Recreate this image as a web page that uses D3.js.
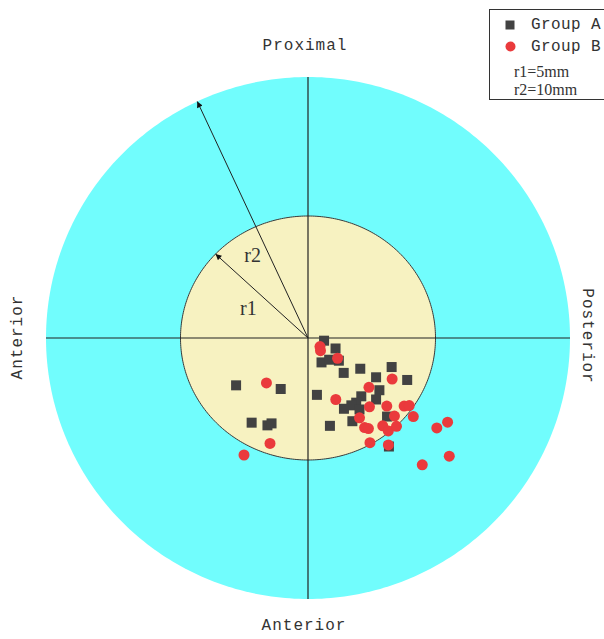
<!DOCTYPE html>
<html>
<head>
<meta charset="utf-8">
<script src="https://cdn.jsdelivr.net/npm/d3@7"></script>
<style>
  html, body { margin: 0; padding: 0; background: #ffffff; }
  svg { display: block; }
</style>
</head>
<body>
<svg id="chart" width="604" height="639"></svg>
<script>
// Target zones (mm)
const zoneRadii = [10, 5];               // r2, r1
const zoneColors = ["#71fdfd", "#f7f2c1"];

// Point positions in mm: x toward Posterior (+), y toward Proximal (+)
const groupAx = [0.63, 1.08, 0.53, 0.83, 1.21, 1.40, 2.05, 3.28, 3.89, 2.67, 2.80, 2.67, 0.35, 2.09,
                 1.89, 1.70, 1.41, 2.02, 1.74, 0.86, 3.10, 3.16, -2.82, -1.07, -2.21, -1.59, -1.43];
const groupAy = [-0.11, -0.43, -1.00, -0.89, -0.93, -1.43, -1.26, -1.19, -1.72, -1.61, -2.14, -2.52, -2.33, -2.39,
                 -2.65, -2.76, -2.90, -2.93, -3.41, -3.60, -3.22, -4.40, -1.94, -2.09, -3.47, -3.58, -3.50];

const groupBx = [0.47, 0.49, 1.16, 3.30, 2.39, 1.09, 2.41, 3.09, 3.77, 3.97, 4.12, 2.02, 2.22, 2.37,
                 2.93, 3.15, 3.47, 3.39, 2.43, -1.63, -1.49, -2.50, 4.42, 5.00, 5.41, 5.45, 3.14];
const groupBy = [-0.35, -0.52, -0.83, -1.68, -2.02, -2.52, -2.82, -2.79, -2.79, -2.77, -3.20, -3.27, -3.67, -3.71,
                 -3.60, -3.81, -3.62, -3.20, -4.29, -1.84, -4.32, -4.75, -5.02, -3.59, -3.35, -4.65, -4.34];

const directionLabels = ["Proximal", "Anterior", "Anterior", "Posterior"];
const legendGroups = ["Group A", "Group B"];
const legendNotes = ["r1=5mm", "r2=10mm"];

// Radius indicator arrows: [angle in degrees, radius mm]
const radiusArrows = [[115, 10], [136.5, 5]];
const radiusLabels = [{text: "r2", x: -2.17, y: 3.40}, {text: "r1", x: -2.34, y: 1.22}];

const svg = d3.select("#chart");

// Polar projection: radial scales (mm -> px), one segment per zone ring
const cx = 308, cy = 338;
const rx = d3.scaleLinear().domain([0, 5, 10]).range([0, 127.5, 262]);
const ry = d3.scaleLinear().domain([0, 5, 10]).range([0, 122, 261]);
const project = (xm, ym) => {
  const rho = Math.hypot(xm, ym), t = Math.atan2(ym, xm);
  return [cx + rx(rho) * Math.cos(t), cy - ry(rho) * Math.sin(t)];
};

const ringPath = r => {
  const pts = d3.range(0, 360, 1).map(a => {
    const t = a * Math.PI / 180;
    return project(r * Math.cos(t), r * Math.sin(t));
  });
  return d3.line()(pts) + "Z";
};

// Zones
svg.selectAll("path.zone")
  .data(zoneRadii)
  .join("path")
  .attr("class", "zone")
  .attr("d", d => ringPath(d))
  .attr("fill", (d, i) => zoneColors[i])
  .attr("stroke", (d, i) => i === 0 ? "none" : "#3a3a3a")
  .attr("stroke-width", 1);

// Cross axes
const hL = project(-10, 0), hR = project(10, 0), vT = project(0, 10), vB = project(0, -10);
svg.append("line")
  .attr("x1", hL[0]).attr("x2", hR[0])
  .attr("y1", hL[1]).attr("y2", hR[1])
  .attr("stroke", "#222").attr("stroke-width", 1.2);
svg.append("line")
  .attr("x1", vT[0]).attr("x2", vB[0])
  .attr("y1", vT[1]).attr("y2", vB[1])
  .attr("stroke", "#222").attr("stroke-width", 1.2);

// Arrow marker
svg.append("defs").append("marker")
  .attr("id", "arrowhead")
  .attr("viewBox", "0 0 10 10")
  .attr("refX", 10).attr("refY", 5)
  .attr("markerWidth", 9).attr("markerHeight", 6)
  .attr("markerUnits", "userSpaceOnUse")
  .attr("orient", "auto")
  .append("path")
  .attr("d", "M0,0 L10,5 L0,10 Z")
  .attr("fill", "#111");

const tip = d => project(d[1] * Math.cos(d[0] * Math.PI / 180), d[1] * Math.sin(d[0] * Math.PI / 180));
svg.selectAll("line.radius")
  .data(radiusArrows)
  .join("line")
  .attr("class", "radius")
  .attr("x1", cx).attr("y1", cy)
  .attr("x2", d => tip(d)[0])
  .attr("y2", d => tip(d)[1])
  .attr("stroke", "#222").attr("stroke-width", 1)
  .attr("marker-end", "url(#arrowhead)");

svg.selectAll("text.rlabel")
  .data(radiusLabels)
  .join("text")
  .attr("class", "rlabel")
  .attr("x", d => project(d.x, d.y)[0]).attr("y", d => project(d.x, d.y)[1])
  .attr("text-anchor", "middle").attr("dominant-baseline", "central")
  .attr("font-family", "Liberation Serif, serif")
  .attr("font-size", 20)
  .attr("fill", "#333")
  .text(d => d.text);

// Group A squares
const sq = 10;
svg.selectAll("rect.groupA")
  .data(d3.range(groupAx.length))
  .join("rect")
  .attr("class", "groupA")
  .attr("x", i => project(groupAx[i], groupAy[i])[0] - sq / 2)
  .attr("y", i => project(groupAx[i], groupAy[i])[1] - sq / 2)
  .attr("width", sq).attr("height", sq)
  .attr("fill", "#424242");

// Group B circles
svg.selectAll("circle.groupB")
  .data(d3.range(groupBx.length))
  .join("circle")
  .attr("class", "groupB")
  .attr("cx", i => project(groupBx[i], groupBy[i])[0])
  .attr("cy", i => project(groupBx[i], groupBy[i])[1])
  .attr("r", 5.5)
  .attr("fill", "#ea3a3c");

// Direction labels
const labelFont = "Liberation Mono, monospace";
const dir = svg.append("g")
  .attr("font-family", labelFont)
  .attr("font-size", 16)
  .attr("letter-spacing", 1)
  .attr("fill", "#333");
dir.append("text").attr("x", 305).attr("y", 46)
  .attr("text-anchor", "middle").attr("dominant-baseline", "central")
  .text(directionLabels[0]);
dir.append("text").attr("x", 304).attr("y", 626)
  .attr("text-anchor", "middle").attr("dominant-baseline", "central")
  .text(directionLabels[1]);
dir.append("text")
  .attr("transform", "translate(18,337) rotate(-90)")
  .attr("text-anchor", "middle").attr("dominant-baseline", "central")
  .text(directionLabels[2]);
dir.append("text")
  .attr("transform", "translate(587,336) rotate(90)")
  .attr("text-anchor", "middle").attr("dominant-baseline", "central")
  .text(directionLabels[3]);

// Legend
const legend = svg.append("g");
legend.append("rect")
  .attr("x", 489.5).attr("y", 9.5)
  .attr("width", 130).attr("height", 90)
  .attr("fill", "#fff").attr("stroke", "#333").attr("stroke-width", 1);

const rowY = [25, 46.5];
legend.append("rect")
  .attr("x", 510 - 4.5).attr("y", rowY[0] - 4.5)
  .attr("width", 9).attr("height", 9)
  .attr("fill", "#424242");
legend.append("circle")
  .attr("cx", 510.5).attr("cy", rowY[1]).attr("r", 5)
  .attr("fill", "#ea3a3c");

legend.selectAll("text.lgroup")
  .data(legendGroups)
  .join("text")
  .attr("class", "lgroup")
  .attr("x", 531).attr("y", (d, i) => rowY[i])
  .attr("dominant-baseline", "central")
  .attr("font-family", labelFont)
  .attr("font-size", 16)
  .attr("letter-spacing", 0.4)
  .attr("fill", "#333")
  .text(d => d);

legend.selectAll("text.lnote")
  .data(legendNotes)
  .join("text")
  .attr("class", "lnote")
  .attr("x", 514).attr("y", (d, i) => [71, 89][i])
  .attr("dominant-baseline", "central")
  .attr("font-family", "Liberation Serif, serif")
  .attr("font-size", 16)
  .attr("fill", "#333")
  .text(d => d);
</script>
</body>
</html>
